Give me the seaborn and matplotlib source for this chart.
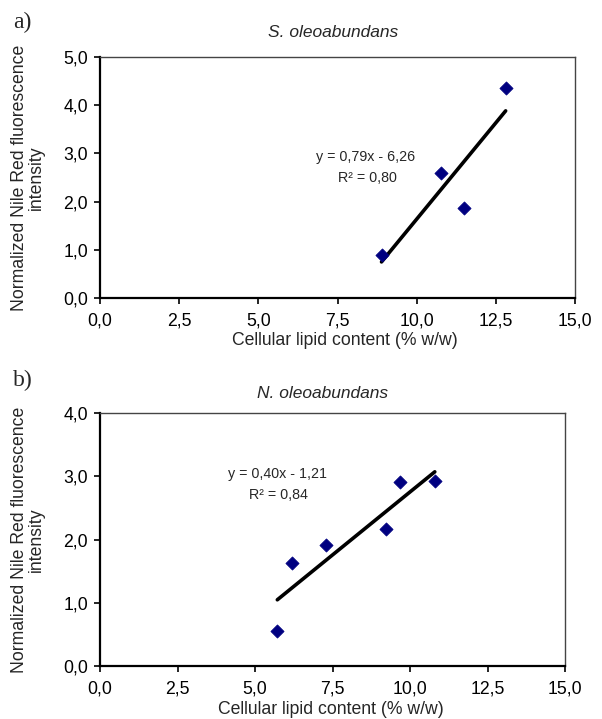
import matplotlib
matplotlib.use("Agg")
import matplotlib.pyplot as plt
import matplotlib.ticker as mticker
import seaborn as sns
import pandas as pd

sns.set_theme(style="white")
plt.rcParams['font.family'] = ['Liberation Sans', 'DejaVu Sans']

# Panel a) S. oleoabundans
lipid_a = [8.89, 10.76, 11.50, 12.81]
fluor_a = [0.89, 2.59, 1.87, 4.36]
eq_a = ["y = 0,79x - 6,26", "R² = 0,80"]

# Panel b) N. oleoabundans
lipid_b = [5.72, 6.20, 7.28, 9.24, 9.68, 10.80]
fluor_b = [0.55, 1.63, 1.91, 2.17, 2.92, 2.93]
eq_b = ["y = 0,40x - 1,21", "R² = 0,84"]

xticks = [0.0, 2.5, 5.0, 7.5, 10.0, 12.5, 15.0]
yticks_a = [0, 1, 2, 3, 4, 5]
yticks_b = [0, 1, 2, 3, 4]

W, H = 602, 719
fig = plt.figure(figsize=(W / 100, H / 100), dpi=100)
ax_a = fig.add_axes([100 / W, 1 - 298 / H, 475 / W, 241 / H])
ax_b = fig.add_axes([100 / W, 1 - 666 / H, 465 / W, 252.7 / H])

comma = mticker.FuncFormatter(lambda v, p: f"{v:.1f}".replace(".", ","))


def style(ax, xs, ys, yticks, title, title_pos, eq, eq_pos, r2_y,
          xlabel_pos, ylabel_x, panel_label, panel_y):
    df = pd.DataFrame({"x": xs, "y": ys})
    sns.regplot(data=df, x="x", y="y", ax=ax, scatter=False, ci=None,
                truncate=True, color="black", line_kws={"lw": 2.6})
    sns.scatterplot(data=df, x="x", y="y", ax=ax, marker="D", s=45,
                    color="#000080", edgecolor="#000080", zorder=5)
    ax.set_xlim(0, 15)
    ax.set_ylim(0, yticks[-1])
    ax.set_xticks(xticks)
    ax.set_yticks(yticks)
    ax.xaxis.set_major_formatter(comma)
    ax.yaxis.set_major_formatter(comma)
    ax.tick_params(axis="both", direction="out", length=4, width=1.2,
                   labelsize=12.7, colors="black", bottom=True, left=True)
    ax.tick_params(axis="x", pad=6.5)
    ax.tick_params(axis="y", pad=4.5)
    for s in ["left", "bottom"]:
        ax.spines[s].set_color("black")
        ax.spines[s].set_linewidth(1.6)
    for s in ["top", "right"]:
        ax.spines[s].set_color("#444444")
        ax.spines[s].set_linewidth(1.0)
    ax.set_xlabel("Cellular lipid content (% w/w)", fontsize=12.7)
    ax.xaxis.label.set_va("center")
    ax.xaxis.set_label_coords(*xlabel_pos)
    ax.set_ylabel("Normalized Nile Red fluorescence\nintensity", fontsize=12.7,
                  linespacing=1.0)
    ax.yaxis.label.set_va("center")
    ax.yaxis.set_label_coords(ylabel_x, 0.5)
    ax.text(title_pos[0], title_pos[1], title, transform=ax.transAxes,
            fontsize=12.5, style="italic", ha="center", va="center")
    ax.text(eq_pos[0], eq_pos[1], eq[0], transform=ax.transAxes, fontsize=10.3,
            ha="center", va="center")
    ax.text(eq_pos[0] + 0.002, r2_y, eq[1], transform=ax.transAxes,
            fontsize=10.3, ha="center", va="center")
    fig.text(13 / W, panel_y, panel_label, fontsize=17,
             family=["Liberation Serif", "DejaVu Serif"], ha="left", va="center")


style(ax_a, lipid_a, fluor_a, yticks_a, "S. oleoabundans", (0.4916, 1.0996),
      eq_a, (0.56, 0.585), 0.498, (0.516, -0.178), -0.1526, "a)", 1 - 22 / H)
style(ax_b, lipid_b, fluor_b, yticks_b, "N. oleoabundans", (0.4785, 1.080),
      eq_b, (0.381, 0.76), 0.677, (0.497, -0.174), -0.1559, "b)", 1 - 380 / H)

fig.savefig("out.png", dpi=100)
